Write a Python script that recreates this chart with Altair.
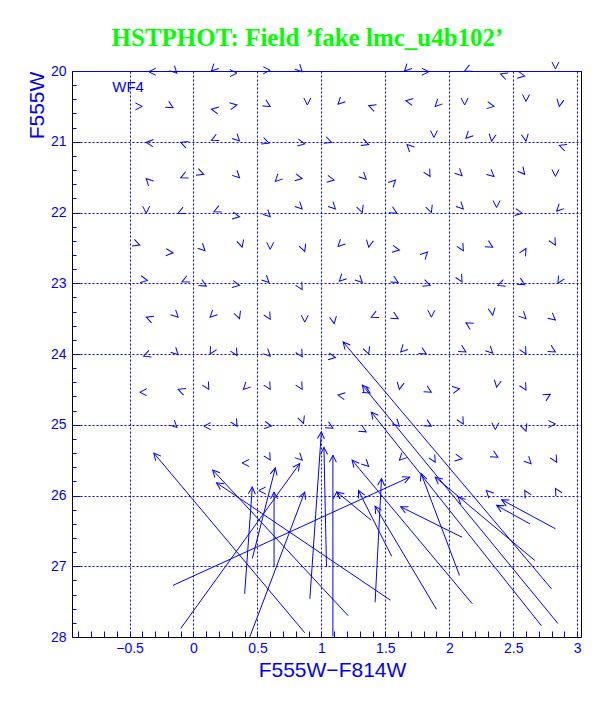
import math
import altair as alt
import pandas as pd

# ---------------- texts ----------------
TITLE = "HSTPHOT: Field \u2019fake lmc_u4b102\u2019"
X_TITLE = "F555W\u2212F814W"
Y_TITLE = "F555W"
panel_label = ["WF4"]
panel_label_x = [-0.635]
panel_label_y = [20.23]

# ---------------- axes ----------------
x_domain = [-0.95, 3.03]
y_domain = [20, 28]
x_label_values = [-0.5, 0, 0.5, 1, 1.5, 2, 2.5, 3]
y_label_values = [20, 21, 22, 23, 24, 25, 26, 27, 28]
y_major_ticks = [21, 22, 23, 24, 25, 26, 27]
x_minor_ticks = [round(-0.9 + 0.1 * i, 1) for i in range(40)]
y_minor_ticks = [round(20 + 0.2 * i, 1) for i in range(41)]

# ---------------- small arrows (head position, heading in degrees, 0 = up, clockwise) ----------------
small_x = [
    -0.35, -0.13, 0.14, 0.34, 0.60, 0.85, 1.65, 1.84, 2.12, 2.40, 2.59, 2.83,
    -0.40, -0.16, 0.14, 0.34, 0.60, 0.89, 1.13, 1.37, 1.66, 1.89, 2.12, 2.35, 2.60, 2.86,
    -0.37, -0.10, 0.14, 0.36, 0.59, 0.87, 1.08, 1.37, 1.67, 1.88, 2.13, 2.33, 2.60, 2.86,
    -0.37, -0.10, 0.08, 0.36, 0.64, 0.85, 1.10, 1.35, 1.58, 1.85, 2.10, 2.35, 2.59, 2.83,
    -0.37, -0.12, 0.16, 0.36, 0.60, 0.85, 1.11, 1.32, 1.59, 1.86, 2.11, 2.37, 2.57, 2.84,
    -0.42, -0.16, 0.09, 0.38, 0.60, 0.87, 1.13, 1.37, 1.61, 1.83, 2.11, 2.34, 2.60, 2.83,
    -0.36, -0.09, 0.10, 0.36, 0.59, 0.85, 1.14, 1.32, 1.60, 1.85, 2.10, 2.38, 2.59, 2.85,
    -0.37, -0.12, 0.13, 0.36, 0.60, 0.87, 1.10, 1.39, 1.60, 1.86, 2.13, 2.34, 2.60, 2.83,
    -0.39, -0.12, 0.13, 0.34, 0.60, 0.85, 1.11, 1.37, 1.62, 1.82, 2.13, 2.34, 2.60, 2.83,
    -0.42, -0.12, 0.12, 0.39, 0.60, 0.85, 1.13, 1.38, 1.61, 1.86, 2.08, 2.37, 2.60, 2.79,
    -0.13, 0.08, 0.34, 0.61, 0.86, 1.09, 1.35, 1.61, 1.86, 2.11, 2.36, 2.60, 2.83,
    0.38, 0.60, 0.85, 1.37, 1.61, 1.89, 2.10, 2.38, 2.64, 2.84,
    0.51, 1.12, 2.07, 2.29, 2.59, 2.83,
]
small_y = [
    20.01, 20.03, 20.00, 20.03, 19.99, 20.01, 20.00, 20.01, 20.00, 20.04, 20.07, 19.97,
    20.50, 20.52, 20.54, 20.48, 20.50, 20.48, 20.47, 20.49, 20.42, 20.50, 20.48, 20.50, 20.43, 20.50,
    21.01, 21.01, 20.98, 20.99, 21.02, 21.03, 21.01, 21.04, 21.04, 20.94, 20.95, 20.99, 20.99, 21.05,
    21.52, 21.51, 21.46, 21.51, 21.56, 21.52, 21.54, 21.53, 21.54, 21.49, 21.48, 21.49, 21.46, 21.49,
    22.01, 22.01, 21.99, 22.06, 22.06, 21.95, 21.95, 22.00, 22.01, 22.00, 21.95, 21.93, 22.01, 21.98,
    22.46, 22.57, 22.54, 22.49, 22.52, 22.55, 22.48, 22.49, 22.53, 22.56, 22.54, 22.49, 22.51, 22.46,
    22.96, 22.98, 23.04, 23.03, 22.99, 23.09, 22.97, 22.99, 22.99, 23.03, 22.98, 23.03, 23.02, 23.00,
    23.48, 23.48, 23.48, 23.50, 23.51, 23.55, 23.57, 23.48, 23.50, 23.48, 23.56, 23.45, 23.50, 23.52,
    24.03, 24.01, 24.00, 24.02, 24.03, 24.04, 24.05, 24.00, 23.97, 24.00, 23.97, 23.99, 24.00, 23.97,
    24.54, 24.50, 24.50, 24.50, 24.50, 24.50, 24.58, 24.55, 24.50, 24.54, 24.49, 24.47, 24.51, 24.57,
    25.04, 25.02, 25.02, 25.02, 24.98, 25.05, 25.10, 25.02, 25.02, 24.99, 25.07, 25.09, 24.99,
    25.54, 25.50, 25.50, 25.59, 25.50, 25.53, 25.48, 25.46, 25.55, 25.53,
    25.93, 25.95, 26.02, 25.93, 25.93, 25.90,
]
small_dir = [
    270, 135, 225, 90, 90, 135, 225, 90, 245, 290, 100, 180,
    90, 120, 280, 80, 120, 180, 225, 290, 280, 225, 180, 100, 180, 190,
    275, 290, 245, 135, 110, 100, 110, 110, 315, 180, 225, 190, 170, 290,
    315, 245, 110, 135, 225, 100, 100, 135, 45, 150, 135, 130, 140, 180,
    180, 245, 245, 100, 135, 135, 135, 160, 120, 160, 135, 180, 100, 225,
    110, 95, 135, 165, 180, 160, 225, 190, 100, 45, 150, 120, 30, 150,
    100, 245, 120, 100, 135, 150, 225, 135, 120, 110, 150, 250, 120, 210,
    290, 135, 225, 160, 150, 180, 170, 245, 120, 180, 300, 170, 135, 130,
    250, 135, 210, 150, 135, 150, 100, 160, 225, 120, 120, 135, 150, 120,
    270, 290, 150, 225, 150, 150, 280, 120, 190, 120, 80, 190, 150, 60,
    135, 270, 150, 100, 160, 120, 120, 135, 120, 150, 180, 160, 90,
    270, 150, 135, 135, 225, 150, 100, 120, 135, 150,
    270, 0, 315, 315, 330, 330,
]

# ---------------- long arrows (tail -> head) ----------------
long_x0 = [0.87, -0.16, -0.10, 0.40, 0.46, 1.21, 1.54, 0.63, 0.91, 1.04, 1.09, 2.80, 2.85,
           2.72, 2.67, 2.63, 2.83, 1.42, 1.90, 2.08, 2.18, 2.10, 1.55, 1.39, 0.44]
long_y0 = [27.94, 27.27, 27.88, 27.39, 26.89, 27.70, 27.48, 27.01, 27.46, 27.01, 27.99, 27.32, 27.81,
           27.84, 26.92, 26.40, 26.47, 27.51, 27.61, 27.13, 27.53, 26.59, 26.86, 26.35, 28.00]
long_x1 = [-0.31, 1.69, 0.83, 0.46, 0.64, 0.15, 0.18, 0.63, 1.00, 1.02, 1.09, 1.17, 1.32,
           1.39, 1.89, 2.37, 2.41, 1.47, 1.42, 1.78, 1.24, 1.62, 1.29, 1.12, 0.87]
long_y1 = [25.40, 25.74, 25.55, 25.88, 25.61, 25.64, 25.82, 25.95, 25.10, 25.32, 25.43, 23.83, 24.44,
           24.82, 25.74, 26.14, 26.06, 25.76, 26.15, 25.69, 25.50, 26.16, 25.93, 25.95, 25.95]

# ---------------- layout / style ----------------
W, H = 509, 566
BLUE = "#0000ff"
SANS = "Liberation Sans"
HEAD = "M-0.5,1L0,0L0.5,1"

px_per_x = W / (x_domain[1] - x_domain[0])
px_per_y = H / (y_domain[1] - y_domain[0])


def heading(x0, y0, x1, y1):
    dx = (x1 - x0) * px_per_x
    dy = (y1 - y0) * px_per_y
    return math.degrees(math.atan2(dx, -dy)) % 360


long_df = pd.DataFrame({"x0": long_x0, "y0": long_y0, "x1": long_x1, "y1": long_y1})
long_df["heading"] = [heading(a, b, c, d) for a, b, c, d in zip(long_x0, long_y0, long_x1, long_y1)]
small_df = pd.DataFrame({"x": small_x, "y": small_y, "heading": small_dir})
label_df = pd.DataFrame({"x": panel_label_x, "y": panel_label_y, "t": panel_label})

sx = alt.Scale(domain=x_domain, nice=False, zero=False)
sy = alt.Scale(domain=y_domain, reverse=True, nice=False, zero=False)

main_x_axis = alt.Axis(
    orient="bottom", values=x_label_values, format="~g",
    labelColor=BLUE, labelFont=SANS, labelFontSize=14, labelPadding=4,
    labelFlush=False, labelOverlap=False,
    ticks=False, tickSize=0,
    domain=True, domainColor="black", domainWidth=1,
    grid=True, gridColor=BLUE, gridDash=[2, 2], gridWidth=1, gridOpacity=1,
    title=X_TITLE, titleColor=BLUE, titleFont=SANS, titleFontSize=21, titleFontWeight="normal",
    titleX=260, titleY=39, titleAlign="center", titleBaseline="alphabetic",
)
main_y_axis = alt.Axis(
    orient="left", values=y_label_values, format="d",
    labelColor=BLUE, labelFont=SANS, labelFontSize=14, labelPadding=6,
    labelOverlap=False, labelFlush=False,
    ticks=False, tickSize=0,
    domain=True, domainColor="black", domainWidth=1,
    grid=True, gridColor=BLUE, gridDash=[2, 2], gridWidth=1, gridOpacity=1,
    title=Y_TITLE, titleColor=BLUE, titleFont=SANS, titleFontSize=21, titleFontWeight="normal",
    titleX=-29, titleY=34, titleAngle=270, titleAlign="center", titleBaseline="alphabetic",
)

shafts = alt.Chart(long_df).mark_rule(color=BLUE, strokeWidth=1).encode(
    x=alt.X("x0:Q", scale=sx, axis=main_x_axis),
    y=alt.Y("y0:Q", scale=sy, axis=main_y_axis),
    x2="x1:Q",
    y2="y1:Q",
)

long_heads = alt.Chart(long_df).mark_point(
    shape=HEAD, filled=False, size=196, color=BLUE, strokeWidth=1, opacity=1
).encode(
    x=alt.X("x1:Q", scale=sx, axis=alt.Axis(
        orient="top", offset=-H, values=x_minor_ticks, labels=False, domain=False,
        grid=False, ticks=True, tickColor=BLUE, tickSize=6, tickWidth=1, title=None)),
    y=alt.Y("y1:Q", scale=sy, axis=alt.Axis(
        orient="right", offset=-W, values=y_minor_ticks, labels=False, domain=False,
        grid=False, ticks=True, tickColor=BLUE, tickSize=4, tickWidth=1, title=None)),
    angle=alt.Angle("heading:Q", scale=None),
)

small_heads = alt.Chart(small_df).mark_point(
    shape=HEAD, filled=False, size=196, color=BLUE, strokeWidth=1, opacity=1
).encode(
    x=alt.X("x:Q", scale=sx, axis=alt.Axis(
        orient="top", values=x_label_values, labels=False, ticks=False, grid=False,
        domain=True, domainColor=BLUE, domainWidth=1, title=None)),
    y=alt.Y("y:Q", scale=sy, axis=alt.Axis(
        orient="right", values=y_label_values, labels=False, ticks=False, grid=False,
        domain=True, domainColor="black", domainWidth=1, title=None)),
    angle=alt.Angle("heading:Q", scale=None),
)

label = alt.Chart(label_df).mark_text(
    align="left", baseline="middle", font=SANS, fontSize=15, color=BLUE
).encode(
    x=alt.X("x:Q", scale=sx, axis=None),
    y=alt.Y("y:Q", scale=sy, axis=alt.Axis(
        orient="right", offset=-W, values=y_major_ticks, labels=False, domain=False,
        grid=False, ticks=True, tickColor=BLUE, tickSize=8, tickWidth=1, title=None)),
    text="t:N",
)

chart = alt.layer(shafts, long_heads, small_heads, label).resolve_axis(
    x="independent", y="independent"
).properties(
    width=W,
    height=H,
    padding={"left": 64, "top": 63, "right": 15, "bottom": 55},
    autosize=alt.AutoSizeParams(type="none"),
    title=alt.TitleParams(
        text=TITLE, font="Liberation Serif", fontSize=25, fontWeight="bold",
        color="#00ff00", anchor="middle", frame="group", dx=-19, offset=-11,
        baseline="alphabetic",
    ),
).configure_view(stroke=None)

chart.save("out.html", embed_options={"renderer": "svg", "actions": False})
